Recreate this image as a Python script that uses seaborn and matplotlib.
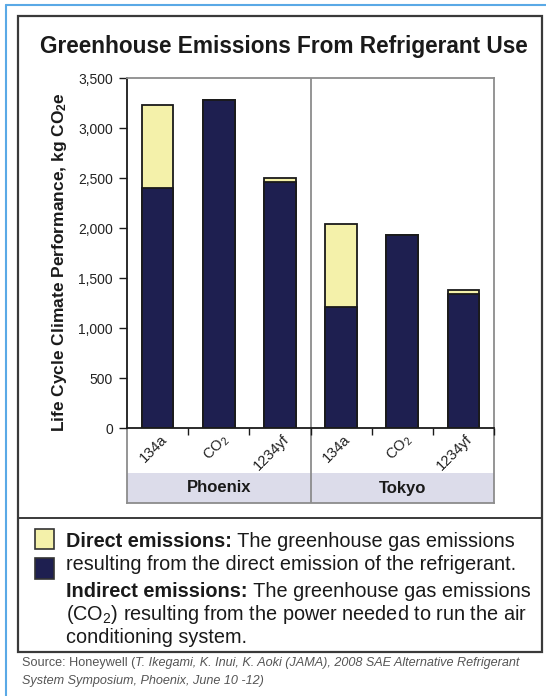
import numpy as np
import pandas as pd
import matplotlib
matplotlib.use("Agg")
import matplotlib.pyplot as plt
import seaborn as sns
from matplotlib.patches import Rectangle
from matplotlib.ticker import StrMethodFormatter

# data (kg CO2e)
cities = ["Phoenix", "Phoenix", "Phoenix", "Tokyo", "Tokyo", "Tokyo"]
refrigerants = ["134a", "CO$_2$", "1234yf", "134a", "CO$_2$", "1234yf"]
indirect = [2400, 3280, 2460, 1210, 1930, 1340]
direct = [830, 0, 40, 830, 0, 40]

NAVY = "#1e1f50"
YELLOW = "#f4f1aa"
LAVENDER = "#dcdcea"
GRID_GRAY = "#8c8c8c"
DARK = "#1a1a1a"

sns.set_style("white")
plt.rcParams["font.family"] = ["Liberation Sans", "DejaVu Sans"]
plt.rcParams["mathtext.fontset"] = "custom"
plt.rcParams["mathtext.rm"] = "Liberation Sans"
plt.rcParams["mathtext.it"] = "Liberation Sans:italic"
plt.rcParams["mathtext.bf"] = "Liberation Sans:bold"

df = pd.DataFrame({"city": cities, "refrigerant": refrigerants,
                   "indirect": indirect, "direct": direct})
df["slot"] = df["city"] + " " + df["refrigerant"]
df["total"] = df["indirect"] + df["direct"]

W, H = 546, 696
fig = plt.figure(figsize=(W / 100, H / 100), dpi=100)

# background layer in pixel coordinates for frames, title and legend
bg = fig.add_axes([0, 0, 1, 1], zorder=-1)
bg.set_xlim(0, W)
bg.set_ylim(H, 0)
bg.axis("off")
bg.plot([6, 6], [H, 5], color="#5aa9e6", lw=1.5)
bg.plot([6, W], [5, 5], color="#5aa9e6", lw=1.5)
bg.add_patch(Rectangle((18, 16), 524, 636, fill=False, ec="#3a3a3a", lw=1.6))
bg.plot([18, 542], [518, 518], color="#3a3a3a", lw=1.4)
bg.text(284, 47, "Greenhouse Emissions From Refrigerant Use", ha="center",
        va="center", fontsize=16.3, fontweight="bold", color=DARK)

# main bar axes
ax = fig.add_axes([127 / W, (H - 428) / H, 367 / W, 350 / H], zorder=2)
order = list(df["slot"])
sns.barplot(data=df, x="slot", y="total", order=order, color=YELLOW,
            saturation=1, width=0.52, edgecolor=DARK, linewidth=1.3,
            errorbar=None, ax=ax)
sns.barplot(data=df, x="slot", y="indirect", order=order, color=NAVY,
            saturation=1, width=0.52, edgecolor=DARK, linewidth=1.3,
            errorbar=None, ax=ax)
ax.set_xlim(-0.5, 5.5)
ax.set_ylim(0, 3500)
ax.set_yticks(np.arange(0, 3501, 500))
ax.yaxis.set_major_formatter(StrMethodFormatter("{x:,.0f}"))
ax.tick_params(axis="y", length=6, width=1, color=DARK, pad=4,
               labelsize=10, labelcolor="#222222", left=True)
ax.set_xticks(range(len(order)))
ax.set_xticklabels(refrigerants, rotation=45, ha="right", va="top",
                   rotation_mode="anchor", fontsize=10.5, color="#222222")
ax.tick_params(axis="x", which="major", length=0, pad=3)
ax.set_xticks(np.arange(0.5, 6, 1), minor=True)
ax.tick_params(axis="x", which="minor", length=5, width=1, color=DARK,
               direction="out", bottom=True)
shift = matplotlib.transforms.ScaledTranslation(2 / 100, 0, fig.dpi_scale_trans)
for lab in ax.get_xticklabels():
    lab.set_transform(lab.get_transform() + shift)
ax.axvline(2.5, color=GRID_GRAY, lw=1.3)
for s in ["left", "bottom"]:
    ax.spines[s].set_color(DARK)
    ax.spines[s].set_linewidth(1.3)
for s in ["top", "right"]:
    ax.spines[s].set_color(GRID_GRAY)
    ax.spines[s].set_linewidth(1.3)
ax.set_xlabel("")
ax.set_ylabel(r"Life Cycle Climate Performance, kg CO$_\mathbf{2}$e",
              fontsize=12.5, fontweight="bold", color=DARK)
ax.yaxis.set_label_coords((69 - 127) / 367, (428 - 262) / 350)

# group band under the tick labels
band = fig.add_axes([127 / W, (H - 503) / H, 367 / W, 75 / H], zorder=1)
band.set_xlim(-0.5, 5.5)
band.set_ylim(0, 75)
band.add_patch(Rectangle((-0.5, 0), 6, 30, color=LAVENDER, lw=0))
band.axvline(2.5, color=GRID_GRAY, lw=1.3)
band.set_xticks([])
band.set_yticks([])
band.spines["top"].set_visible(False)
for s in ["left", "right", "bottom"]:
    band.spines[s].set_color(GRID_GRAY)
    band.spines[s].set_linewidth(1.3)
for city in dict.fromkeys(cities):
    pos = np.mean([i for i, c in enumerate(cities) if c == city])
    band.text(pos, 15, city, ha="center", va="center", fontsize=12,
              fontweight="bold", color=DARK)

# legend block
LEG_FS = 14.3
bg.add_patch(Rectangle((35, 529), 19, 20, fc=YELLOW, ec="#333333", lw=1.2))
bg.add_patch(Rectangle((35, 558), 19, 21, fc=NAVY, ec="#333333", lw=1.2))


def mixed(x, y, first, rest, fs, w1="bold", s2="normal", color=DARK):
    t = bg.text(x, y, first, fontsize=fs, fontweight=w1, color=color,
                va="baseline", ha="left")
    bg.annotate(rest, xy=(1, 0), xycoords=t, va="bottom", ha="left",
                fontsize=fs, fontstyle=s2, color=color)


mixed(66, 547, "Direct emissions:", " The greenhouse gas emissions", LEG_FS)
bg.text(66, 570, "resulting from the direct emission of the refrigerant.",
        fontsize=LEG_FS, color=DARK, va="baseline")
mixed(66, 597, "Indirect emissions:", " The greenhouse gas emissions", LEG_FS)
bg.text(66, 620, "(CO$_2$) resulting from the power needed to run the air",
        fontsize=LEG_FS, color=DARK, va="baseline")
bg.text(66, 643, "conditioning system.", fontsize=LEG_FS, color=DARK,
        va="baseline")

# source note
SRC = "#555555"
SRC_FS = 9.1
mixed(22, 666, "Source: Honeywell (",
      "T. Ikegami, K. Inui, K. Aoki (JAMA), 2008 SAE Alternative Refrigerant",
      SRC_FS, w1="normal", s2="italic", color=SRC)
bg.text(22, 684, "System Symposium, Phoenix, June 10 -12)", fontsize=SRC_FS,
        fontstyle="italic", color=SRC, va="baseline")

fig.savefig("out.png", dpi=100)
